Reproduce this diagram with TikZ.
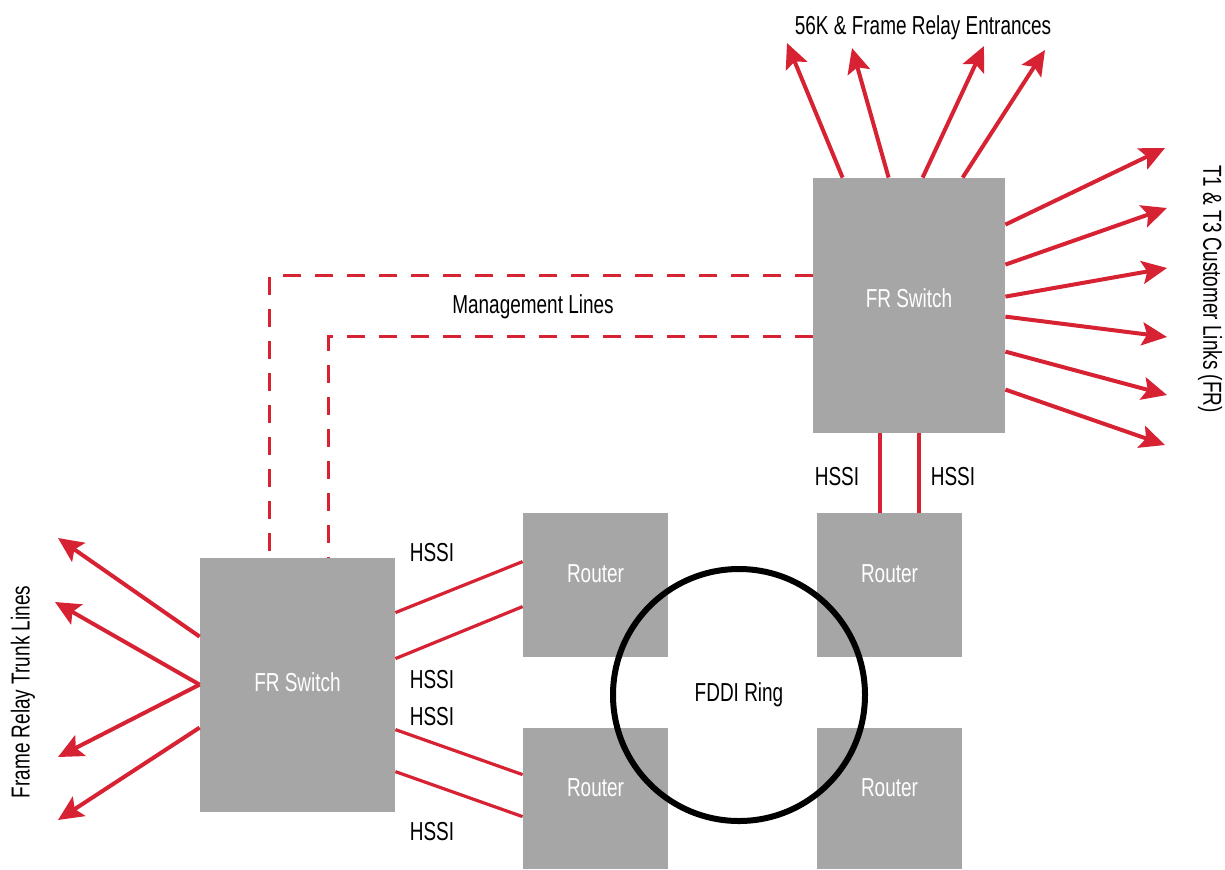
\documentclass[tikz,border=0pt]{standalone}
\usepackage{fontspec}
\setmainfont{Liberation Sans}[FakeStretch=0.73]
\usepackage{tikz}
\usetikzlibrary{arrows.meta,calc}

\definecolor{linkred}{RGB}{214,34,50}
\definecolor{boxgray}{RGB}{166,166,166}

\begin{document}
\begin{tikzpicture}[x=0.5pt,y=-0.5pt,
  every node/.style={font=\fontsize{13}{15}\selectfont},
  box/.style={fill=boxgray,draw=none,text=white,inner sep=0pt},
  switchbox/.style={box,minimum width=96pt,minimum height=127.5pt,text depth=7pt},
  routerbox/.style={box,minimum width=72.5pt,minimum height=72pt,text depth=11pt},
  link/.style={draw=linkred,line width=1.6pt},
  outlink/.style={link,line width=2pt,-{Stealth[length=12.5pt,width=11.5pt,inset=2.5pt]}},
  mgmt/.style={draw=linkred,line width=1.7pt,dash pattern=on 9pt off 7pt}]
\useasboundingbox (0,0) rectangle (1225,869);
% switches and routers
\node[switchbox] (sw_top) at (909,305.5) {FR Switch};
\node[switchbox,minimum width=97.5pt,minimum height=127pt,text depth=3pt] (sw_left) at (297.5,685) {FR Switch};
\node[routerbox] (rt_a) at (595.5,585) {Router};
\node[routerbox] (rt_b) at (889.5,585) {Router};
\node[routerbox,minimum height=70.5pt] (rt_c) at (595.5,798.5) {Router};
\node[routerbox,minimum height=70.5pt] (rt_d) at (889.5,798.5) {Router};
\node[circle,draw=black,line width=3pt,minimum size=126pt,inner sep=0pt] (ring) at (739,695) {FDDI Ring};
% free ends of the outgoing links
\coordinate (e1) at (787,43);
\coordinate (e2) at (852,48);
\coordinate (e3) at (984,46);
\coordinate (e4) at (1045,50);
\coordinate (c1) at (1165,148);
\coordinate (c2) at (1167,208);
\coordinate (c3) at (1167,268);
\coordinate (c4) at (1167,337);
\coordinate (c5) at (1167,395);
\coordinate (c6) at (1165,445);
\coordinate (t1) at (58,538);
\coordinate (t2) at (55,602);
\coordinate (t3) at (58,757);
\coordinate (t4) at (58,820);
% entrances
\draw[outlink] ($(sw_top.north west)+(30,0)$) -- (e1);
\draw[outlink] ($(sw_top.north west)+(76,0)$) -- (e2);
\draw[outlink] ($(sw_top.north west)+(110,0)$) -- (e3);
\draw[outlink] ($(sw_top.north west)+(150,0)$) -- (e4);
% customer links
\draw[outlink] ($(sw_top.north east)+(0,47)$) -- (c1);
\draw[outlink] ($(sw_top.north east)+(0,87)$) -- (c2);
\draw[outlink] ($(sw_top.north east)+(0,119)$) -- (c3);
\draw[outlink] ($(sw_top.north east)+(0,139)$) -- (c4);
\draw[outlink] ($(sw_top.north east)+(0,174)$) -- (c5);
\draw[outlink] ($(sw_top.north east)+(0,212)$) -- (c6);
% trunk lines
\draw[outlink] ($(sw_left.north west)+(0,79)$) -- (t1);
\draw[outlink] ($(sw_left.north west)+(0,127)$) -- (t2);
\draw[outlink] ($(sw_left.north west)+(0,127)$) -- (t3);
\draw[outlink] ($(sw_left.north west)+(0,170)$) -- (t4);
% HSSI links
\draw[link] ($(sw_left.north east)+(0,55)$) -- ($(rt_a.north west)+(0,49)$);
\draw[link] ($(sw_left.north east)+(0,101)$) -- ($(rt_a.north west)+(0,94)$);
\draw[link] ($(sw_left.north east)+(0,172)$) -- ($(rt_c.north west)+(0,47)$);
\draw[link] ($(sw_left.north east)+(0,214)$) -- ($(rt_c.north west)+(0,89)$);
\draw[link] ($(sw_top.south)+(-29,0)$) -- ($(rt_b.north)+(-9.5,0)$);
\draw[link] ($(sw_top.south)+(10,0)$) -- ($(rt_b.north)+(29.5,0)$);
% management lines
\draw[mgmt] ($(sw_top.north west)+(0,98)$) -| ($(sw_left.north west)+(70,0)$);
\draw[mgmt] ($(sw_top.north west)+(0,159)$) -| ($(sw_left.north west)+(129,0)$);
% labels
\node (lbl_ent) at (923,28) {56K \& Frame Relay Entrances};
\node[rotate=-90] (lbl_cust) at (1210,289) {T1 \& T3 Customer Links (FR)};
\node[rotate=90] (lbl_trunk) at (23,692) {Frame Relay Trunk Lines};
\node (lbl_mgmt) at (533,307) {Management Lines};
\node (h1) at (432,553) {HSSI};
\node (h2) at (432,680) {HSSI};
\node (h3) at (432,717) {HSSI};
\node (h4) at (432,832) {HSSI};
\node (h5) at (837,477) {HSSI};
\node (h6) at (953,477) {HSSI};
\end{tikzpicture}
\end{document}
